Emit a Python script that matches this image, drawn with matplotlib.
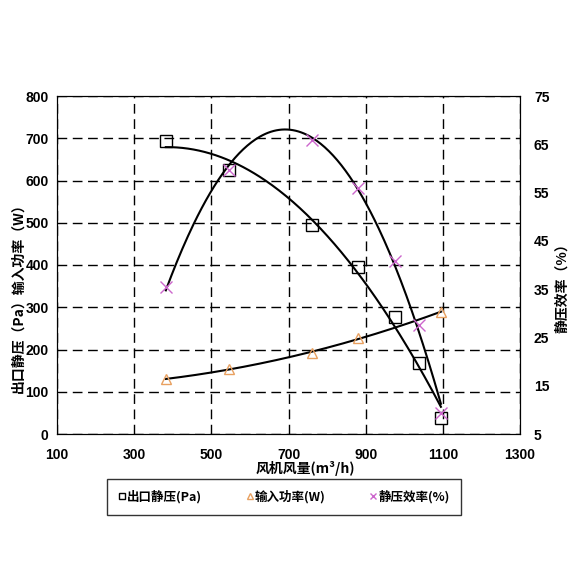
import numpy as np
import matplotlib.pyplot as plt
from matplotlib.lines import Line2D

plt.rcParams['font.family'] = ['Noto Sans CJK SC', 'DejaVu Sans']

# air volume (m3/h)
flow = [382, 546, 761, 880, 976, 1038, 1095]
# static pressure (Pa)
pressure = [693, 625, 495, 395, 277, 168, 38]
# input power (W), measured at fewer points
power_flow = [382, 546, 761, 880, 1095]
power = [130, 154, 192, 227, 289]
# static efficiency (%)
efficiency = [35.4, 59.7, 65.9, 55.9, 40.8, 27.6, 9.4]

fig = plt.figure(figsize=(5.7, 5.7), dpi=100)
ax = fig.add_axes([57 / 570, 1 - 434 / 570, 463 / 570, 338 / 570])
ax2 = ax.twinx()

# trend lines (2nd order polynomial fits, like the spreadsheet)
xs = np.linspace(min(flow), max(flow), 200)
xp = np.linspace(min(power_flow), max(power_flow), 200)
ax.plot(xs, np.polyval(np.polyfit(flow, pressure, 2), xs), color='black', lw=1.5, zorder=3)
ax.plot(xp, np.polyval(np.polyfit(power_flow, power, 2), xp), color='black', lw=1.5, zorder=3)
ax2.plot(xs, np.polyval(np.polyfit(flow, efficiency, 2), xs), color='black', lw=1.5, zorder=3)

ax.plot(flow, pressure, 's', mfc='none', mec='black', ms=8, mew=1, zorder=4)
ax.plot(power_flow, power, '^', mfc='none', mec='#E8A060', ms=7, mew=1, zorder=4)
ax2.plot(flow, efficiency, 'x', color='#CC66CC', ms=8, mew=1, zorder=4)

ax.set_xlim(100, 1300)
ax.set_ylim(0, 800)
ax2.set_ylim(5, 75)
ax.set_xticks(range(100, 1301, 200))
ax.set_yticks(range(0, 801, 100))
ax2.set_yticks(range(5, 76, 10))

ax.grid(True, color='black', ls=(0, (7, 4)), lw=1)
for a in (ax, ax2):
    a.tick_params(length=0, labelsize=10)
    for lab in a.get_xticklabels() + a.get_yticklabels():
        lab.set_fontweight('bold')
        lab.set_family(['Liberation Sans', 'DejaVu Sans'])
ax.tick_params(axis='x', pad=10)
ax.tick_params(axis='y', pad=6)
ax2.tick_params(axis='y', pad=10)

fig.text(18 / 570, 1 - 295 / 570, '出口静压（Pa）输入功率（W）', rotation=90,
         ha='center', va='center', fontsize=10, fontweight='bold')
fig.text(562 / 570, 1 - 285 / 570, '静压效率（%）', rotation=90,
         ha='center', va='center', fontsize=10, fontweight='bold')
fig.text(305 / 570, 1 - 469 / 570, '风机风量(m³/h)', ha='center', va='center',
         fontsize=10, fontweight='bold')

handles = [
    Line2D([], [], ls='none', marker='s', mfc='none', mec='black', ms=5),
    Line2D([], [], ls='none', marker='^', mfc='none', mec='#E8A060', ms=5),
    Line2D([], [], ls='none', marker='x', color='#CC66CC', ms=5),
]
labels = ['出口静压(Pa)', '输入功率(W)', '静压效率(%)']
leg = fig.legend(handles, labels, loc='center', bbox_to_anchor=(284 / 570, 1 - 497 / 570),
                 ncol=3, frameon=True, fancybox=False, edgecolor='black',
                 handlelength=0.6, handletextpad=0.1, columnspacing=3.5,
                 borderpad=0.9, prop={'weight': 'bold', 'size': 9})
leg.get_frame().set_linewidth(1)

fig.savefig('out.png', dpi=100)
